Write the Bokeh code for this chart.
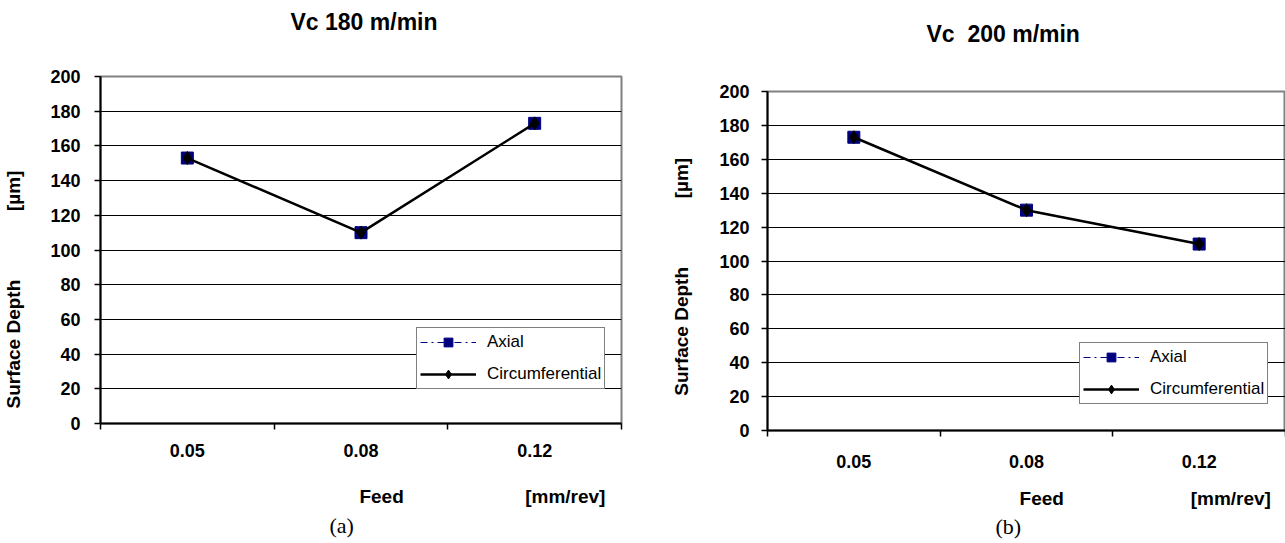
from bokeh.plotting import figure
from bokeh.models import Range1d, FixedTicker, Legend, LegendItem, Title
from bokeh.embed import file_html
from bokeh.resources import INLINE

# ---- data ----
feed = ["0.05", "0.08", "0.12"]
axial_180 = [153, 110, 173]
circ_180 = [153, 110, 173]
axial_200 = [173, 130, 110]
circ_200 = [173, 130, 110]
y_ticks = [0, 20, 40, 60, 80, 100, 120, 140, 160, 180, 200]
titles = ["Vc 180 m/min", "Vc\u00a0 200 m/min"]
panel_tags = ["(a)", "(b)"]
y_name, y_unit = "Surface Depth", "[µm]"
x_name, x_unit = "Feed", "[mm/rev]"

FONT = "Liberation Sans"
SP = "\u00a0"


def make_panel(axial, circ, title, tag, cfg):
    p = figure(frame_width=cfg["fw"], frame_height=cfg["fh"], output_backend="svg",
               toolbar_location=None,
               x_range=Range1d(0, len(feed)), y_range=Range1d(0, 200),
               min_border_left=cfg["bl"], min_border_right=cfg["br"],
               min_border_top=cfg["bt"], min_border_bottom=cfg["bb"],
               background_fill_color="white", border_fill_color="white")
    p.outline_line_color = "#808080"
    p.outline_line_width = 2

    # title (a trailing empty line lifts it away from the frame)
    p.title.text = title + "\n"
    p.title.align = "left"
    p.title.vertical_align = "bottom"
    p.title.offset = cfg["title_off"]
    p.title.text_font = FONT
    p.title.text_font_size = "23px"
    p.title.text_font_style = "bold"
    p.title.text_color = "black"
    p.title.text_line_height = cfg["title_lh"]
    p.title.standoff = 0

    xs = [i + 0.5 for i in range(len(feed))]

    # axes
    xa = p.xaxis[0]
    xa.ticker = FixedTicker(ticks=xs, minor_ticks=list(range(len(feed) + 1)))
    xa.major_label_overrides = {x: f for x, f in zip(xs, feed)}
    xa.major_tick_out = 0
    xa.major_tick_in = 0
    xa.minor_tick_out = 6
    xa.minor_tick_in = 0
    xa.minor_tick_line_color = "black"
    xa.minor_tick_line_width = 1.5
    xa.axis_line_color = "black"
    xa.axis_line_width = 2
    xa.major_label_text_font = FONT
    xa.major_label_text_font_style = "bold"
    xa.major_label_text_font_size = "18px"
    xa.major_label_text_color = "black"
    xa.major_label_standoff = cfg["x_standoff"]
    xa.axis_label = SP * cfg["x_lead"] + x_name + SP * cfg["x_gap"] + x_unit
    xa.axis_label_text_font = FONT
    xa.axis_label_text_font_style = "bold"
    xa.axis_label_text_font_size = "19px"
    xa.axis_label_text_color = "black"
    xa.axis_label_standoff = cfg["xl_standoff"]

    ya = p.yaxis[0]
    ya.ticker = FixedTicker(ticks=y_ticks, minor_ticks=[])
    ya.major_tick_out = 6
    ya.major_tick_in = 0
    ya.major_tick_line_color = "black"
    ya.major_tick_line_width = 1.5
    ya.axis_line_color = "black"
    ya.axis_line_width = 2
    ya.major_label_text_font = FONT
    ya.major_label_text_font_style = "bold"
    ya.major_label_text_font_size = "18px"
    ya.major_label_text_color = "black"
    ya.major_label_standoff = cfg["y_standoff"]
    ya.axis_label = y_name + SP * cfg["y_gap"] + y_unit + SP * cfg["y_trail"]
    ya.axis_label_text_font = FONT
    ya.axis_label_text_font_style = "bold"
    ya.axis_label_text_font_size = "19px"
    ya.axis_label_text_color = "black"
    ya.axis_label_standoff = cfg["yl_standoff"]

    p.xgrid.visible = False
    p.ygrid.ticker = FixedTicker(ticks=y_ticks)
    p.ygrid.grid_line_color = "black"
    p.ygrid.grid_line_width = 1.2

    # series
    la = p.line(xs, axial, line_color="#000080", line_width=1.2, line_dash="7 4 2 4")
    sa = p.scatter(xs, axial, marker="square", size=12, fill_color="#000080", line_color="#000080")
    lc = p.line(xs, circ, line_color="black", line_width=2.5)
    sc = p.scatter(xs, circ, marker="diamond", size=13, fill_color="black", line_color="black")

    legend = Legend(items=[LegendItem(label="Axial", renderers=[la, sa]),
                           LegendItem(label="Circumferential", renderers=[lc, sc])],
                    location=cfg["leg"], padding=3, spacing=10, margin=0,
                    glyph_width=56, glyph_height=22, label_height=22, label_standoff=11,
                    label_text_font=FONT, label_text_font_size="17px", label_text_color="black",
                    border_line_color="black", border_line_width=1.2,
                    background_fill_color="white", background_fill_alpha=1)
    p.add_layout(legend)

    p.add_layout(Title(text=tag, align="left", offset=cfg["tag_off"],
                       text_font="Liberation Serif", text_font_style="normal",
                       text_font_size="22px", text_color="black",
                       standoff=cfg["tag_standoff"]), "below")
    return p


cfg1 = dict(fw=521, fh=347, bl=100, br=19, bt=76, bb=120, title_off=190, title_lh=1.6,
            x_standoff=14, xl_standoff=26, x_lead=46, x_gap=23,
            y_standoff=14, yl_standoff=23, y_gap=13, y_trail=15,
            leg=(316, 34), tag_off=229, tag_standoff=2)
cfg2 = dict(fw=518, fh=339, bl=127, br=0, bt=91, bb=113, title_off=159, title_lh=1.71,
            x_standoff=18, xl_standoff=17, x_lead=45, x_gap=24,
            y_standoff=12, yl_standoff=24, y_gap=13, y_trail=6,
            leg=(312, 26), tag_off=228, tag_standoff=0)

p1 = make_panel(axial_180, circ_180, titles[0], panel_tags[0], cfg1)
p2 = make_panel(axial_200, circ_200, titles[1], panel_tags[1], cfg2)

TEMPLATE = """{% block postamble %}<style>
html, body { overflow: hidden; }
body { display: flex !important; flex-direction: row; align-items: flex-start; }
</style>{% endblock %}"""

open("out.html", "w").write(file_html([p1, p2], INLINE, template=TEMPLATE))
